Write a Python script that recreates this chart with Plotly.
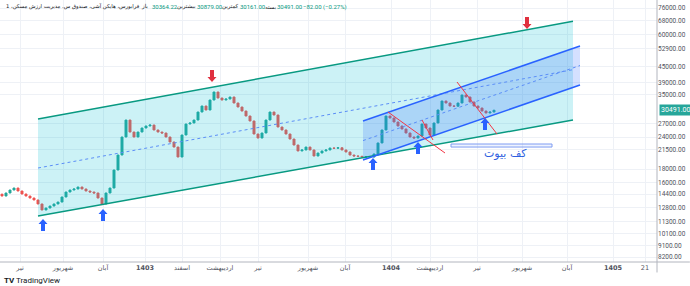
import math
import plotly.graph_objects as go

# ---------------- data ----------------
first_open = 14400
closes = [14160, 14550, 14940, 15210, 14810, 14420, 14160, 13910, 13670, 13190,
          12500, 12720, 12950, 13190, 13420, 14040, 14680, 14940, 15080, 15350,
          15080, 14810, 14680, 14550, 13910, 13190, 14550, 15210, 17870, 20430,
          24000, 27930, 25090, 24000, 25090, 26010, 26480, 26710, 25550, 25090,
          24870, 24000, 22950, 21940, 20070, 24430, 26950, 27200, 27930, 30000,
          31660, 30550, 33400, 35880, 34000, 33400, 33700, 34310, 32520, 31380,
          30270, 28950, 27690, 24650, 23780, 24870, 27930, 30000, 29210, 26240,
          25550, 24650, 23570, 22340, 21180, 21370, 21940, 21370, 20250, 20800,
          21180, 21370, 21750, 21700, 21800, 21370, 20990, 20430, 20250, 20200,
          20070, 20100, 20050, 20620, 22750, 25550, 28950, 28440, 27440, 26480,
          25780, 24870, 24000, 23780, 24210, 26950, 26010, 24430, 27200, 30550,
          33100, 32520, 31660, 31600, 32520, 34930, 34310, 32810, 31660, 31100,
          30270, 29740, 30000, 30491]

time_tick_pos = [4.5, 15.25, 25.25, 35.75, 45, 54.5, 64, 76.5, 85.75, 97.25,
                 107, 118.75, 130, 141.25, 152.75, 160.75]
time_tick_text = ["تیر", "شهریور", "آبان", "<b>1403</b>", "اسفند", "اردیبهشت", "تیر",
                  "شهریور", "آبان", "<b>1404</b>", "اردیبهشت", "تیر", "شهریور", "آبان",
                  "<b>1405</b>", "21"]
price_ticks = [76000, 68000, 60000, 52900, 45000, 39000, 35000, 27000, 24000,
               21500, 18000, 16000, 14400, 12800, 11300, 10100, 9100, 8200]

# drawings (bar index, price)
green_x = [9, 142.75]
green_upper = [28200, 67500]
green_lower = [11845, 27934]
green_mid = [18190, 43800]
blue_x = [90.25, 144.5]
blue_upper = [27685, 54117]
blue_lower = [19538, 38192]
blue_mid = [23240, 45463]
red_lines = [([96.5, 110.75], [30000, 20800]),
             ([105, 107.75], [27934, 23362]),
             ([113.75, 123.75], [39230, 24650])]
up_arrows = [(10.25, 10930), (25.25, 11952), (92.75, 18852), (104, 21750), (120.75, 26953)]
down_arrows = [(52.5, 41390), (131.25, 66466)]
box_x = [112.25, 137.5]
box_y = [21940, 22542]
box_label = "کف بیوت"
box_label_pos = (125.75, 20800)

title_text = "فرابورس، هایکن آشی، صندوق س. مدیریت ارزش مسکن، 1"
ohlc_labels = ["باز", "بیشترین", "کمترین", "بسته"]
ohlc_values = ["30364.22", "30879.00", "30161.00", "30491.00"]
change_text = "−82.00 (−0.27%)"
last_price = 30491

UP = "#26a69a"
DOWN = "#ef5350"

# ---------------- figure ----------------
opens = [first_open] + closes[:-1]
highs = [max(o, c) for o, c in zip(opens, closes)]
lows = [min(o, c) for o, c in zip(opens, closes)]
xi = list(range(len(closes)))

fig = go.Figure()

fig.add_trace(go.Candlestick(
    x=xi, open=opens, high=highs, low=lows, close=closes,
    increasing=dict(line=dict(color=UP, width=1), fillcolor=UP),
    decreasing=dict(line=dict(color=DOWN, width=1), fillcolor=DOWN),
    hoverinfo="skip", showlegend=False))

fig.add_trace(go.Scatter(
    x=[green_x[0], green_x[1], green_x[1], green_x[0], green_x[0]],
    y=[green_upper[0], green_upper[1], green_lower[1], green_lower[0], green_upper[0]],
    fill="toself", fillcolor="rgba(0,188,212,0.2)", mode="lines",
    line=dict(width=0), hoverinfo="skip", showlegend=False))
fig.add_trace(go.Scatter(
    x=[blue_x[0], blue_x[1], blue_x[1], blue_x[0], blue_x[0]],
    y=[blue_upper[0], blue_upper[1], blue_lower[1], blue_lower[0], blue_upper[0]],
    fill="toself", fillcolor="rgba(41,98,255,0.2)", mode="lines",
    line=dict(width=0), hoverinfo="skip", showlegend=False))

for ys in (green_upper, green_lower):
    fig.add_trace(go.Scatter(x=green_x, y=ys, mode="lines",
                             line=dict(color="#089981", width=1.5),
                             hoverinfo="skip", showlegend=False))
fig.add_trace(go.Scatter(x=green_x, y=green_mid, mode="lines",
                         line=dict(color="#5b8ef7", width=1, dash="dot"),
                         hoverinfo="skip", showlegend=False))
for ys in (blue_upper, blue_lower):
    fig.add_trace(go.Scatter(x=blue_x, y=ys, mode="lines",
                             line=dict(color="#2962ff", width=1.5),
                             hoverinfo="skip", showlegend=False))
fig.add_trace(go.Scatter(x=blue_x, y=blue_mid, mode="lines",
                         line=dict(color="#5b8ef7", width=1, dash="dot"),
                         hoverinfo="skip", showlegend=False))
for rx, ry in red_lines:
    fig.add_trace(go.Scatter(x=rx, y=ry, mode="lines",
                             line=dict(color="#f23645", width=1),
                             hoverinfo="skip", showlegend=False))

shapes = []
up_path = "M0,6 L4.5,1 L2,1 L2,-6 L-2,-6 L-2,1 L-4.5,1 Z"
down_path = "M0,-6 L4.5,-1 L2,-1 L2,6 L-2,6 L-2,-1 L-4.5,-1 Z"
for ax_, ay_ in up_arrows:
    shapes.append(dict(type="path", xref="x", yref="y", xsizemode="pixel", ysizemode="pixel",
                       xanchor=ax_, yanchor=ay_, path=up_path,
                       fillcolor="#2962ff", line=dict(width=0)))
for ax_, ay_ in down_arrows:
    shapes.append(dict(type="path", xref="x", yref="y", xsizemode="pixel", ysizemode="pixel",
                       xanchor=ax_, yanchor=ay_, path=down_path,
                       fillcolor="#e0303f", line=dict(width=0)))
shapes.append(dict(type="rect", xref="x", yref="y", x0=box_x[0], x1=box_x[1],
                   y0=box_y[0], y1=box_y[1], fillcolor="rgba(41,98,255,0.08)",
                   line=dict(color="#7f9cf2", width=1)))
shapes.append(dict(type="line", xref="paper", yref="paper", x0=1, x1=1, y0=-0.04, y1=1,
                   line=dict(color="#b2b5be", width=1)))
shapes.append(dict(type="line", xref="paper", yref="paper", x0=0, x1=1.05, y0=0, y1=0,
                   line=dict(color="#b2b5be", width=1)))

annotations = []
annotations.append(dict(x=box_label_pos[0], y=math.log10(box_label_pos[1]), xref="x", yref="y",
                        text=box_label, showarrow=False,
                        font=dict(family="DejaVu Sans", size=11, color="#2f5fe0")))
annotations.append(dict(x=1, y=math.log10(last_price), xref="paper", yref="y",
                        xanchor="left", yanchor="middle", xshift=2,
                        text="30491.00", showarrow=False, bgcolor=UP, borderpad=1,
                        font=dict(family="Roboto", size=7, color="white")))
annotations.append(dict(x=0.0, y=-0.07, xref="paper", yref="paper", xanchor="left",
                        yanchor="middle", showarrow=False, xshift=2,
                        text="<b>TV</b> TradingView",
                        font=dict(family="Roboto", size=8, color="#131722")))

# legend line (positions in plot pixels)
W = 657.0
LY = 1 - 7 / 262
annotations.append(dict(x=4 / W, y=LY, xref="paper", yref="paper",
                        xanchor="left", yanchor="middle", showarrow=False,
                        text=title_text, font=dict(family="DejaVu Sans", size=5.3, color="#131722")))
lab_pos = [139, 175, 220, 263]
val_pos = [150, 195, 238, 275]
for lp, vp, lab, val in zip(lab_pos, val_pos, ohlc_labels, ohlc_values):
    annotations.append(dict(x=lp / W, y=LY, xref="paper", yref="paper",
                            xanchor="left", yanchor="middle", showarrow=False,
                            text=lab, font=dict(family="DejaVu Sans", size=5.5, color="#131722")))
    annotations.append(dict(x=vp / W, y=LY, xref="paper", yref="paper",
                            xanchor="left", yanchor="middle", showarrow=False,
                            text=val, font=dict(family="Roboto", size=6, color="#089981")))
annotations.append(dict(x=301 / W, y=LY, xref="paper", yref="paper",
                        xanchor="left", yanchor="middle", showarrow=False,
                        text=change_text, font=dict(family="Roboto", size=6, color="#089981")))

fig.update_layout(
    width=690, height=286,
    margin=dict(l=0, r=33, t=0, b=24),
    paper_bgcolor="white", plot_bgcolor="white",
    shapes=shapes, annotations=annotations,
    showlegend=False,
    xaxis=dict(range=[-0.5, 163.75], tickmode="array", tickvals=time_tick_pos,
               ticktext=time_tick_text, showgrid=True, gridcolor="#eef1f6", zeroline=False,
               rangeslider=dict(visible=False), ticks="", showline=False,
               tickfont=dict(family="DejaVu Sans", size=6.5, color="#50535e")),
    yaxis=dict(type="log", side="right", range=[3.89502, 4.91195], tickmode="array",
               tickvals=price_ticks, ticktext=["%.2f" % v for v in price_ticks],
               showgrid=True, gridcolor="#eef1f6", zeroline=False, ticks="",
               tickfont=dict(family="Roboto", size=6.5, color="#50535e")),
)

fig.write_html("out.html")
